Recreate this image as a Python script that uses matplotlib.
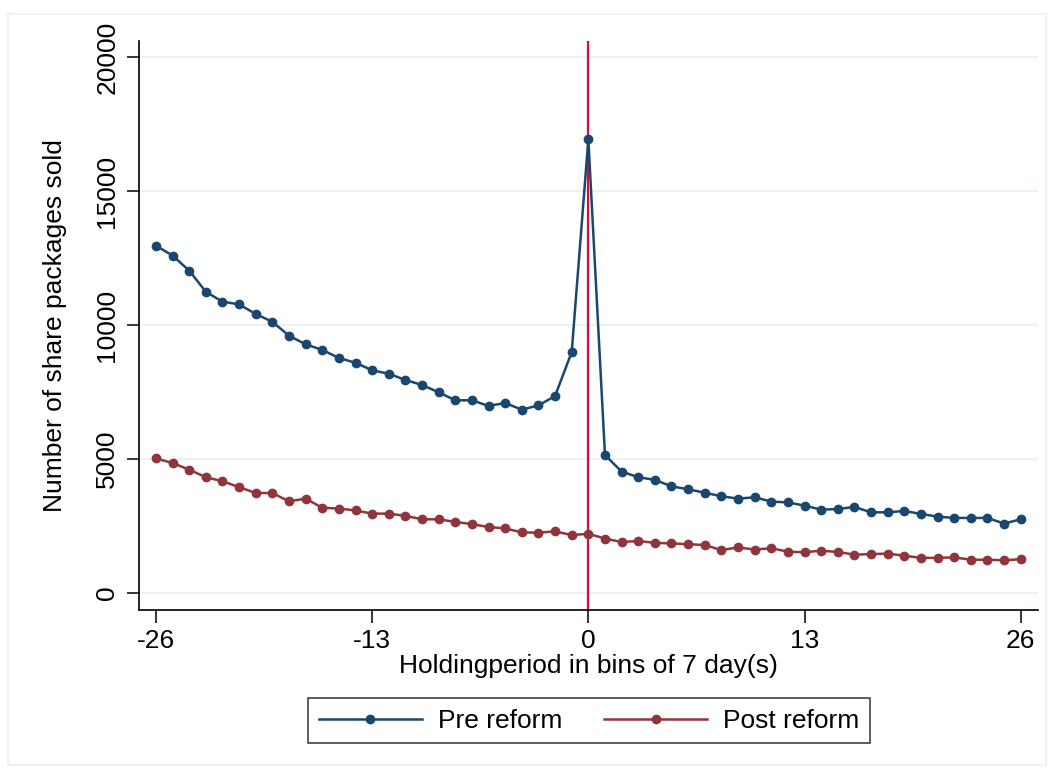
import matplotlib.pyplot as plt
import numpy as np

plt.rcParams['font.family'] = ['Liberation Sans', 'DejaVu Sans']
plt.rcParams['axes.unicode_minus'] = False

bins = list(range(-26, 27))

pre_reform = [12960, 12590, 12030, 11240, 10870, 10770, 10410, 10120, 9600, 9280,
              9070, 8770, 8590, 8310, 8180, 7950, 7760, 7490, 7190, 7190,
              6980, 7090, 6840, 7000, 7350, 8990, 16930,
              5150, 4530, 4320, 4220, 3980, 3870, 3740, 3610, 3520, 3570,
              3410, 3380, 3260, 3110, 3130, 3210, 3010, 3010, 3060, 2950,
              2850, 2800, 2800, 2800, 2590, 2750]

post_reform = [5020, 4850, 4600, 4320, 4170, 3950, 3730, 3730, 3420, 3520,
               3180, 3150, 3080, 2960, 2960, 2880, 2750, 2750, 2650, 2570,
               2460, 2410, 2260, 2250, 2300, 2160, 2210,
               2030, 1900, 1940, 1870, 1850, 1820, 1790, 1600, 1700, 1620,
               1670, 1540, 1520, 1580, 1530, 1430, 1450, 1470, 1390, 1310,
               1310, 1330, 1240, 1240, 1220, 1260]

navy = '#1a476f'
maroon = '#90353b'
grid_col = '#eaf2f3'
fs = 19

fig = plt.figure(figsize=(10.52, 7.73), dpi=100)
# light outer frame like the Stata graph region
fig.patches.append(plt.Rectangle((0.008, 0.01), 0.986, 0.972, transform=fig.transFigure,
                                 fill=False, edgecolor=grid_col, lw=1.5))

ax = fig.add_axes([0.1318, 0.2113, 0.8546, 0.736])

for v in [0, 5000, 10000, 15000, 20000]:
    ax.axhline(v, color=grid_col, lw=1.5, zorder=0)

ax.axvline(0, color='#d0103a', lw=1.6, zorder=1)

ax.plot(bins, pre_reform, color=navy, lw=1.8, marker='o', markersize=6,
        label='Pre reform', zorder=3)
ax.plot(bins, post_reform, color=maroon, lw=1.8, marker='o', markersize=6,
        label='Post reform', zorder=3)

ax.set_xlim(-27.04, 27.02)
ax.set_ylim(-623, 20608)
ax.set_xticks([-26, -13, 0, 13, 26])
ax.set_yticks([0, 5000, 10000, 15000, 20000])
ax.set_yticklabels(['0', '5000', '10000', '15000', '20000'], rotation=90, va='center')

ax.spines['top'].set_visible(False)
ax.spines['right'].set_visible(False)
for s in ['left', 'bottom']:
    ax.spines[s].set_linewidth(1.2)

ax.tick_params(axis='both', labelsize=fs, length=9, width=1.1, pad=5)

ax.set_xlabel('Holdingperiod in bins of 7 day(s)', fontsize=fs, labelpad=1)
ax.set_ylabel('Number of share packages sold', fontsize=fs, labelpad=20)

leg = fig.legend(loc='center', bbox_to_anchor=(0.560, 0.0675), ncol=2, fontsize=fs,
                 frameon=True, fancybox=False, edgecolor='black', handlelength=3.9,
                 columnspacing=1.6, handletextpad=0.6, borderpad=0.4)
leg.get_frame().set_linewidth(1.1)

fig.savefig('out.png', dpi=100)
